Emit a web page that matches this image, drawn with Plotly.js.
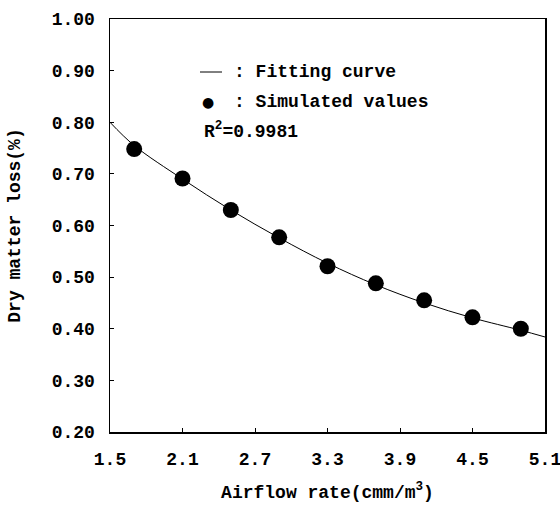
<!DOCTYPE html>
<html>
<head>
<meta charset="utf-8">
<script src="https://cdn.plot.ly/plotly-3.0.1.min.js"></script>
<style>html,body{margin:0;padding:0;background:#fff;}#chart{width:560px;height:514px;}</style>
</head>
<body>
<div id="chart"></div>
<script>
// Simulated values (dots)
const airflow = [1.7, 2.1, 2.5, 2.9, 3.3, 3.7, 4.1, 4.5, 4.9];
const dmLoss = [0.748, 0.691, 0.630, 0.577, 0.521, 0.488, 0.455, 0.422, 0.400];
// Fitting curve
const curveX = [1.5, 1.7, 2.1, 2.5, 2.9, 3.3, 3.7, 4.1, 4.5, 4.9, 5.1];
const curveY = [0.800, 0.755, 0.690, 0.630, 0.576, 0.527, 0.485, 0.450, 0.421, 0.397, 0.384];
const xTicks = [1.5, 2.1, 2.7, 3.3, 3.9, 4.5, 5.1];
const yTicks = [0.2, 0.3, 0.4, 0.5, 0.6, 0.7, 0.8, 0.9, 1.0];
const legendCurve = ': Fitting curve';
const legendDots = ': Simulated values';
const r2Text = 'R<sup>2</sup>=0.9981';

const F = '"Liberation Mono", "Courier New", monospace';
const tickFont = {family: F, size: 18, color: '#000', weight: 'bold'};

const traces = [
  {x: curveX, y: curveY, mode: 'lines', line: {color: '#000', width: 1, shape: 'spline'}, hoverinfo: 'skip'},
  {x: airflow, y: dmLoss, mode: 'markers', marker: {color: '#000', size: 16}}
];

const layout = {
  width: 560, height: 514,
  margin: {l: 110, r: 15, t: 19, b: 82},
  paper_bgcolor: '#fff', plot_bgcolor: '#fff',
  showlegend: false,
  font: {family: F, color: '#000'},
  xaxis: {
    range: [1.4999, 5.1001], tickvals: xTicks, ticktext: xTicks.map(v => v.toFixed(1)),
    showgrid: false, zeroline: false, showline: true, mirror: true, linecolor: '#000', linewidth: 1.5,
    ticks: 'inside', ticklen: 4, tickcolor: '#000', tickfont: tickFont, ticklabelstandoff: 10,
    ticklabeloverflow: 'allow',
    title: {text: 'Airflow rate(cmm/m<sup>3</sup>)', font: {family: F, size: 18, weight: 'bold', color: '#000'}, standoff: 16}
  },
  yaxis: {
    range: [0.1999, 1.0001], tickvals: yTicks, ticktext: yTicks.map(v => v.toFixed(2)),
    showgrid: false, zeroline: false, showline: true, mirror: true, linecolor: '#000', linewidth: 1.5,
    ticks: 'inside', ticklen: 4, tickcolor: '#000', tickfont: tickFont, ticklabelstandoff: 10,
    ticklabeloverflow: 'allow',
    title: {text: 'Dry matter loss(%)', font: {family: F, size: 18, weight: 'bold', color: '#000'}, standoff: 26}
  },
  shapes: [
    {type: 'line', xref: 'paper', yref: 'paper', x0: (200-110)/435, x1: (222-110)/435, y0: (432-72)/413, y1: (432-72)/413, line: {color: '#000', width: 1}}
  ],
  annotations: [
    {xref: 'paper', yref: 'paper', x: (232-110)/435, y: (432-72)/413, xanchor: 'left', yanchor: 'middle', showarrow: false, text: legendCurve, font: {family: F, size: 18, weight: 'bold', color: '#000'}},
    {xref: 'paper', yref: 'paper', x: (208-110)/435, y: (432-102)/413, xanchor: 'center', yanchor: 'middle', showarrow: false, text: '●', font: {family: 'DejaVu Sans', size: 14, color: '#000'}},
    {xref: 'paper', yref: 'paper', x: (232-110)/435, y: (432-102)/413, xanchor: 'left', yanchor: 'middle', showarrow: false, text: legendDots, font: {family: F, size: 18, weight: 'bold', color: '#000'}},
    {xref: 'paper', yref: 'paper', x: (202-110)/435, y: (432-130)/413, xanchor: 'left', yanchor: 'middle', showarrow: false, text: r2Text, font: {family: F, size: 18, weight: 'bold', color: '#000'}}
  ]
};

Plotly.newPlot('chart', traces, layout, {staticPlot: true, displayModeBar: false});
</script>
</body>
</html>
